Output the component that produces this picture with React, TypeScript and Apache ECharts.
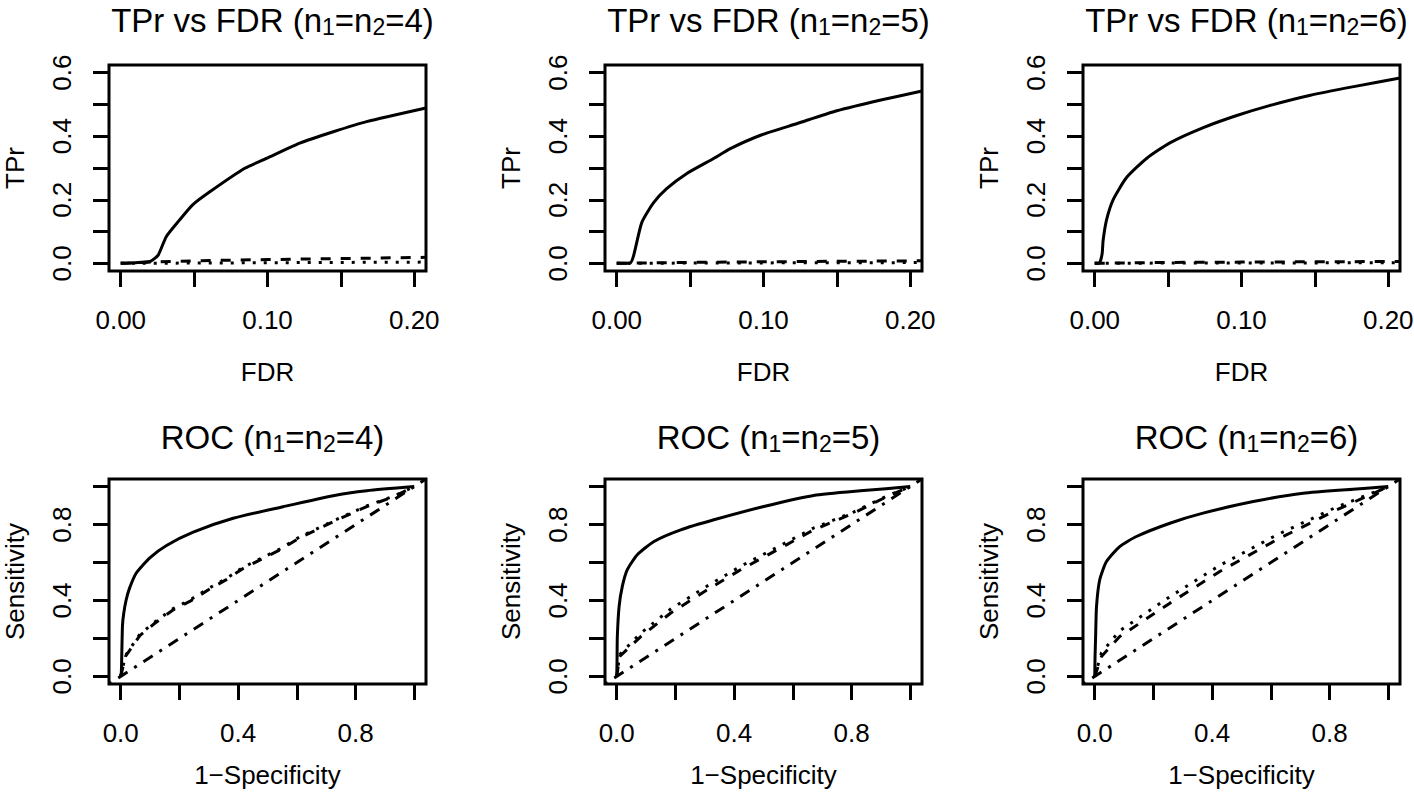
import React, { useEffect, useRef } from "react";
import * as echarts from "echarts";

const FONT = "'Liberation Sans', Arial, Helvetica, sans-serif";

// ---------- tick values ----------
const fdrTicks = [0, 0.05, 0.1, 0.15, 0.2];
const fdrLabels = [0, 0.1, 0.2];
const tprTicks = [0, 0.1, 0.2, 0.3, 0.4, 0.5, 0.6];
const tprLabels = [0, 0.2, 0.4, 0.6];
const rocTicks = [0, 0.2, 0.4, 0.6, 0.8, 1];
const rocLabels = [0, 0.4, 0.8];

// ---------- TPr vs FDR, n1=n2=4 ----------
const fdr4Solid = [0, 0.01, 0.02, 0.0255, 0.031, 0.04, 0.049, 0.0607, 0.0845, 0.0993, 0.122, 0.1448, 0.1675, 0.208];
const tpr4Solid = [0, 0.002, 0.006, 0.026, 0.084, 0.136, 0.184, 0.225, 0.299, 0.33, 0.378, 0.414, 0.446, 0.489];
const fdr4Dash = [0, 0.02, 0.05, 0.1, 0.15, 0.208];
const tpr4Dash = [0, 0.004, 0.008, 0.012, 0.015, 0.019];
const fdr4Dot = [0, 0.05, 0.1, 0.15, 0.208];
const tpr4Dot = [0, 0.001, 0.002, 0.003, 0.004];

// ---------- TPr vs FDR, n1=n2=5 ----------
const fdr5Solid = [0, 0.009, 0.0114, 0.0171, 0.025, 0.034, 0.0478, 0.066, 0.0774, 0.098, 0.123, 0.15, 0.18, 0.208];
const tpr5Solid = [0, 0.001, 0.023, 0.129, 0.19, 0.235, 0.283, 0.33, 0.361, 0.403, 0.44, 0.48, 0.514, 0.542];
const fdr5Dash = [0, 0.05, 0.1, 0.15, 0.208];
const tpr5Dash = [0, 0.003, 0.005, 0.0065, 0.008];
const fdr5Dot = [0, 0.05, 0.1, 0.15, 0.208];
const tpr5Dot = [0, 0.001, 0.0015, 0.002, 0.0025];

// ---------- TPr vs FDR, n1=n2=6 ----------
const fdr6Solid = [0, 0.003, 0.005, 0.0057, 0.008, 0.0125, 0.0217, 0.0353, 0.0512, 0.074, 0.0968, 0.1196, 0.147, 0.1765, 0.208];
const tpr6Solid = [0, 0, 0.029, 0.072, 0.136, 0.2, 0.27, 0.33, 0.379, 0.427, 0.465, 0.497, 0.529, 0.556, 0.583];
const fdr6Dash = [0, 0.05, 0.1, 0.15, 0.208];
const tpr6Dash = [0, 0.003, 0.004, 0.005, 0.006];
const fdr6Dot = [0, 0.05, 0.1, 0.15, 0.208];
const tpr6Dot = [0, 0.001, 0.001, 0.0015, 0.002];

// ---------- ROC, n1=n2=4 ----------
const fpr4Solid = [0, 0.002, 0.004, 0.006, 0.01, 0.018, 0.03, 0.053, 0.099, 0.156, 0.247, 0.383, 0.553, 0.724, 0.838, 1];
const sens4Solid = [0, 0.02, 0.15, 0.27, 0.33, 0.4, 0.465, 0.545, 0.625, 0.69, 0.76, 0.833, 0.894, 0.952, 0.978, 1];
const fpr4Dash = [0, 0.016, 0.065, 0.116, 0.178, 0.235, 0.303, 0.36, 0.417, 0.542, 0.61, 0.724, 0.838, 0.929, 1];
const sens4Dash = [0, 0.105, 0.215, 0.28, 0.35, 0.395, 0.46, 0.51, 0.569, 0.666, 0.73, 0.815, 0.895, 0.947, 1];
const fpr4Dot = [0, 0.016, 0.065, 0.116, 0.178, 0.235, 0.303, 0.36, 0.417, 0.542, 0.61, 0.724, 0.838, 0.929, 1];
const sens4Dot = [0, 0.11, 0.222, 0.287, 0.357, 0.402, 0.467, 0.516, 0.575, 0.671, 0.735, 0.819, 0.898, 0.949, 1];

// ---------- ROC, n1=n2=5 ----------
const fpr5Solid = [0, 0.001, 0.002, 0.008, 0.019, 0.036, 0.07, 0.127, 0.218, 0.331, 0.501, 0.671, 0.841, 1];
const sens5Solid = [0, 0.08, 0.21, 0.368, 0.474, 0.562, 0.641, 0.711, 0.772, 0.825, 0.895, 0.953, 0.979, 1];
const fpr5Dash = [0, 0.01, 0.082, 0.184, 0.308, 0.422, 0.558, 0.671, 0.807, 0.92, 1];
const sens5Dash = [0, 0.105, 0.21, 0.334, 0.456, 0.562, 0.676, 0.772, 0.86, 0.947, 1];
const fpr5Dot = [0, 0.01, 0.082, 0.184, 0.308, 0.422, 0.558, 0.671, 0.807, 0.92, 1];
const sens5Dot = [0, 0.115, 0.228, 0.355, 0.476, 0.58, 0.69, 0.782, 0.866, 0.95, 1];

// ---------- ROC, n1=n2=6 ----------
const fpr6Solid = [0, 0.001, 0.003, 0.006, 0.017, 0.04, 0.085, 0.142, 0.256, 0.369, 0.54, 0.71, 0.88, 1];
const sens6Solid = [0, 0.1, 0.21, 0.368, 0.509, 0.605, 0.684, 0.737, 0.807, 0.86, 0.921, 0.965, 0.986, 1];
const fpr6Dash = [0, 0.023, 0.085, 0.256, 0.426, 0.62, 0.824, 1];
const sens6Dash = [0, 0.105, 0.21, 0.386, 0.553, 0.72, 0.877, 1];
const fpr6Dot = [0, 0.023, 0.085, 0.256, 0.426, 0.62, 0.824, 1];
const sens6Dot = [0, 0.125, 0.24, 0.42, 0.585, 0.745, 0.892, 1];

// chance diagonal (abline 0,1), spans the extended axis range
const diagX = [-0.04, 1.04];
const diagY = [-0.04, 1.04];

const sampleSizes = ["4", "5", "6"];

const zip = (x: number[], y: number[]) => x.map((v, i) => [v, y[i]]);

const LW = 3;
const styles: Record<string, any> = {
  solid: { color: "#000", width: LW, type: "solid" },
  dashed: { color: "#000", width: LW, type: [10, 10], cap: "butt" },
  dotted: { color: "#000", width: LW, type: [3, 8], cap: "butt" },
  dotdash: { color: "#000", width: LW, type: [3, 8, 11, 8], cap: "butt" },
};

export default function App() {
  const ref = useRef<HTMLDivElement>(null);
  useEffect(() => {
    const chart = echarts.init(ref.current!, null, { renderer: "svg" });

    const colLeft = [109, 605, 1083];
    const colWidth = 317;
    const rowTop = [65, 479];
    const rowHeight = [206, 205];

    const grids: any[] = [];
    const xAxes: any[] = [];
    const yAxes: any[] = [];
    const titles: any[] = [];
    const series: any[] = [];

    const axisCommon = (labelFmt: (v: number) => string, ticks: number[], labels: number[], margin: number, rotate = 0) => ({
      type: "value",
      axisLine: { show: false, onZero: false },
      splitLine: { show: false },
      axisTick: {
        show: true,
        inside: false,
        length: 16,
        customValues: ticks,
        lineStyle: { color: "#000", width: 3 },
      },
      axisLabel: {
        show: true,
        customValues: labels,
        formatter: (v: number) => labelFmt(v),
        color: "#000",
        fontSize: 26,
        fontFamily: FONT,
        margin,
        rotate,
      },
      nameLocation: "middle",
      nameTextStyle: { color: "#000", fontSize: 26, fontFamily: FONT },
    });

    const topData = [
      { s: zip(fdr4Solid, tpr4Solid), d: zip(fdr4Dash, tpr4Dash), o: zip(fdr4Dot, tpr4Dot) },
      { s: zip(fdr5Solid, tpr5Solid), d: zip(fdr5Dash, tpr5Dash), o: zip(fdr5Dot, tpr5Dot) },
      { s: zip(fdr6Solid, tpr6Solid), d: zip(fdr6Dash, tpr6Dash), o: zip(fdr6Dot, tpr6Dot) },
    ];
    const botData = [
      { s: zip(fpr4Solid, sens4Solid), d: zip(fpr4Dash, sens4Dash), o: zip(fpr4Dot, sens4Dot) },
      { s: zip(fpr5Solid, sens5Solid), d: zip(fpr5Dash, sens5Dash), o: zip(fpr5Dot, sens5Dot) },
      { s: zip(fpr6Solid, sens6Solid), d: zip(fpr6Dash, sens6Dash), o: zip(fpr6Dot, sens6Dot) },
    ];

    const titleRich = {
      m: { fontSize: 33, lineHeight: 36, fontFamily: FONT, fontWeight: "normal", color: "#000" },
      s: { fontSize: 23, lineHeight: 16, fontFamily: FONT, fontWeight: "normal", color: "#000", verticalAlign: "bottom" },
    };

    const smoothSolid = { smooth: 0.2 };

    for (let r = 0; r < 2; r++) {
      for (let c = 0; c < 3; c++) {
        const idx = r * 3 + c;
        grids.push({
          left: colLeft[c],
          top: rowTop[r],
          width: colWidth,
          height: rowHeight[r],
          show: true,
          borderColor: "#000",
          borderWidth: 3,
          backgroundColor: "transparent",
          containLabel: false,
          outerBoundsMode: "none",
        });
        if (r === 0) {
          xAxes.push({
            ...axisCommon((v) => v.toFixed(2), fdrTicks, fdrLabels, 36),
            gridIndex: idx,
            min: -0.008,
            max: 0.208,
            name: "FDR",
            nameGap: 88,
          });
          yAxes.push({
            ...axisCommon((v) => v.toFixed(1), tprTicks, tprLabels, 34, 90),
            gridIndex: idx,
            min: -0.024,
            max: 0.624,
            name: "TPr",
            nameGap: 81,
          });
          titles.push({
            text: `{m|TPr vs FDR (n}{s|1}{m|=n}{s|2}{m|=${sampleSizes[c]})}`,
            left: colLeft[c] + colWidth / 2,
            top: -3,
            textAlign: "center",
            textStyle: { fontWeight: "normal", rich: titleRich },
          });
          const d = topData[c];
          series.push(
            { type: "line", xAxisIndex: idx, yAxisIndex: idx, data: d.s, showSymbol: false, lineStyle: styles.solid, clip: true, z: 5, ...smoothSolid },
            { type: "line", xAxisIndex: idx, yAxisIndex: idx, data: d.d, showSymbol: false, lineStyle: styles.dashed, clip: true, z: 4 },
            { type: "line", xAxisIndex: idx, yAxisIndex: idx, data: d.o, showSymbol: false, lineStyle: styles.dotted, clip: true, z: 3 }
          );
        } else {
          xAxes.push({
            ...axisCommon((v) => v.toFixed(1), rocTicks, rocLabels, 36),
            gridIndex: idx,
            min: -0.04,
            max: 1.04,
            name: "1\u2212Specificity",
            nameGap: 78,
          });
          yAxes.push({
            ...axisCommon((v) => v.toFixed(1), rocTicks, rocLabels, 34, 90),
            gridIndex: idx,
            min: -0.04,
            max: 1.04,
            name: "Sensitivity",
            nameGap: 81,
          });
          titles.push({
            text: `{m|ROC (n}{s|1}{m|=n}{s|2}{m|=${sampleSizes[c]})}`,
            left: colLeft[c] + colWidth / 2,
            top: 414,
            textAlign: "center",
            textStyle: { fontWeight: "normal", rich: titleRich },
          });
          const d = botData[c];
          series.push(
            { type: "line", xAxisIndex: idx, yAxisIndex: idx, data: d.s, showSymbol: false, lineStyle: styles.solid, clip: true, z: 5, ...smoothSolid },
            { type: "line", xAxisIndex: idx, yAxisIndex: idx, data: d.d, showSymbol: false, lineStyle: styles.dashed, clip: true, z: 4 },
            { type: "line", xAxisIndex: idx, yAxisIndex: idx, data: d.o, showSymbol: false, lineStyle: styles.dotted, clip: true, z: 3 },
            { type: "line", xAxisIndex: idx, yAxisIndex: idx, data: zip(diagX, diagY), showSymbol: false, lineStyle: styles.dotdash, clip: true, z: 2 }
          );
        }
      }
    }

    chart.setOption({
      animation: false,
      backgroundColor: "#fff",
      title: titles,
      grid: grids,
      xAxis: xAxes,
      yAxis: yAxes,
      series,
    });
    return () => chart.dispose();
  }, []);
  return (
    <div
      ref={ref}
      style={{ position: "absolute", left: 0, top: 0, width: 1414, height: 794, background: "#fff" }}
    />
  );
}
